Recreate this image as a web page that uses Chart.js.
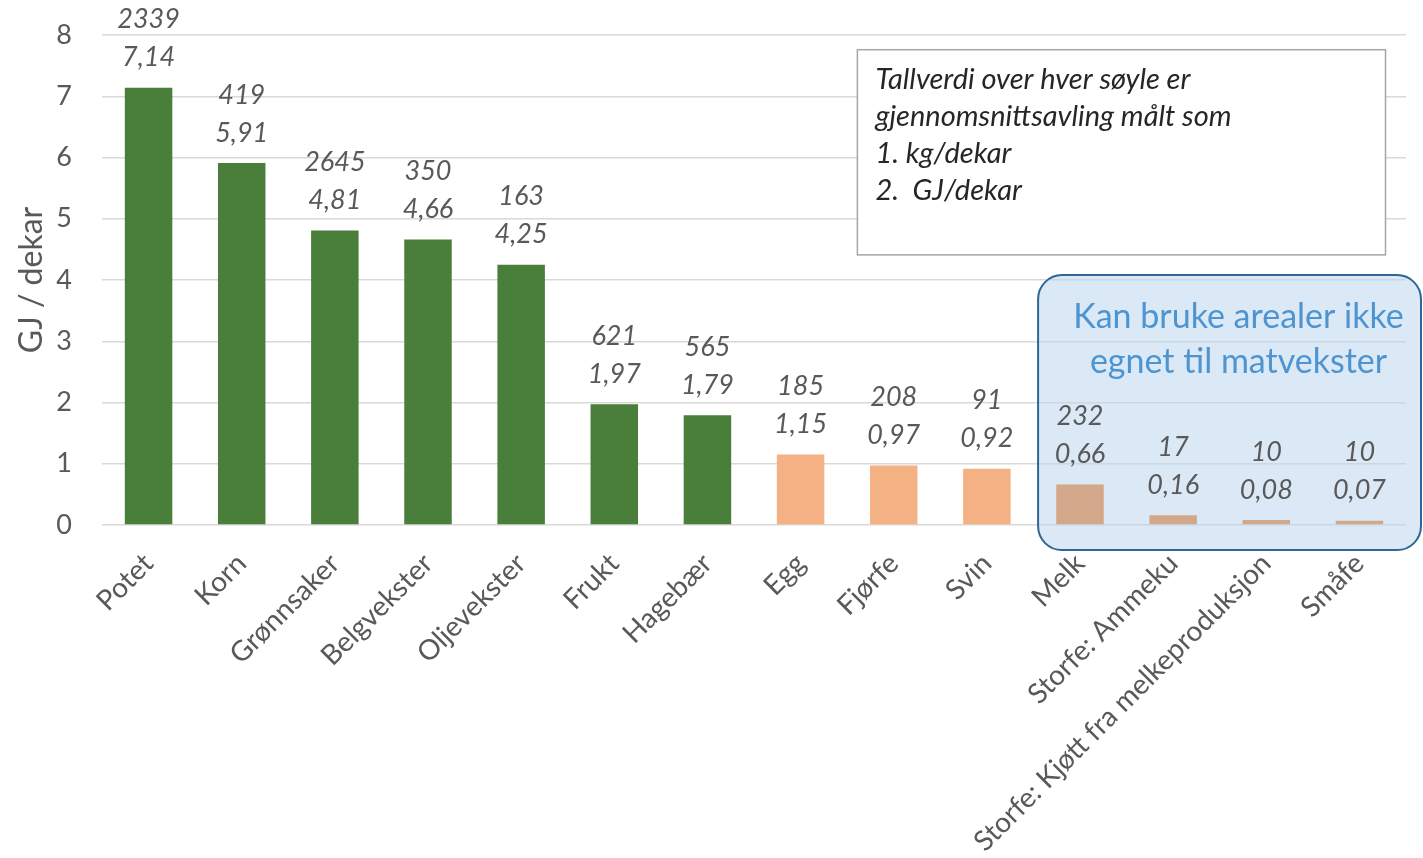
<!DOCTYPE html>
<html>
<head>
<meta charset="utf-8">
<script src="https://cdn.jsdelivr.net/npm/chart.js@4"></script>
<style>
    body { margin: 0; background: #fff; }
    #wrap { width: 1423px; height: 858px; }
</style>
</head>
<body>
<div id="wrap"><canvas id="EnergyYield" width="1423" height="858"></canvas></div>
<script>
// categories and values
const categories = ["Potet", "Korn", "Grønnsaker", "Belgvekster", "Oljevekster", "Frukt", "Hagebær",
    "Egg", "Fjørfe", "Svin", "Melk", "Storfe: Ammeku", "Storfe: Kjøtt fra melkeproduksjon", "Småfe"];
const gjPerDekar = [7.14, 5.91, 4.81, 4.66, 4.25, 1.97, 1.79, 1.15, 0.97, 0.92, 0.66, 0.16, 0.08, 0.07];
const kgPerDekar = [2339, 419, 2645, 350, 163, 621, 565, 185, 208, 91, 232, 17, 10, 10];
const groups = ["plante", "plante", "plante", "plante", "plante", "plante", "plante",
    "dyr", "dyr", "dyr", "grovfor", "grovfor", "grovfor", "grovfor"];
const yTicks = [0, 1, 2, 3, 4, 5, 6, 7, 8];

const noteLines = ["Tallverdi over hver søyle er", "gjennomsnittsavling målt som", "1. kg/dekar", "2.  GJ/dekar"];
const boxLines = ["Kan bruke arealer ikke", "egnet til matvekster"];

const groupColor = { plante: "#4a7e3b", dyr: "#f4b183", grovfor: "#d3a88a" };
const grey = "#595959";

// blue rounded box behind the grass-based bars
const overlayBox = {
    id: "overlayBox",
    beforeDatasetsDraw(chart) {
        const { ctx, scales: { x, y } } = chart;
        const step = x.getPixelForValue(1) - x.getPixelForValue(0);
        const left = x.getPixelForValue(10) - 0.45 * step;
        const right = chart.width - 2;
        const top = y.getPixelForValue(4.08);
        const bottom = y.getPixelForValue(-0.41);
        ctx.save();
        ctx.beginPath();
        ctx.roundRect(left, top, right - left, bottom - top, 24);
        ctx.fillStyle = "rgba(189, 215, 238, 0.55)";
        ctx.fill();
        ctx.lineWidth = 2;
        ctx.strokeStyle = "#2f6696";
        ctx.stroke();
        ctx.fillStyle = "#4d94d0";
        ctx.font = "34px Lato";
        ctx.textAlign = "center";
        ctx.textBaseline = "middle";
        const cx = (left + right) / 2 + 9;
        ctx.fillText(boxLines[0], cx, top + 42);
        ctx.fillText(boxLines[1], cx, top + 87);
        ctx.restore();
    }
};

// note box top right
const noteBox = {
    id: "noteBox",
    beforeDatasetsDraw(chart) {
        const { ctx, scales: { x, y } } = chart;
        const left = x.getPixelForValue(7.61);
        const right = x.getPixelForValue(13.28);
        const top = y.getPixelForValue(7.76);
        const bottom = y.getPixelForValue(4.41);
        ctx.save();
        ctx.fillStyle = "#fff";
        ctx.fillRect(left, top, right - left, bottom - top);
        ctx.lineWidth = 1.5;
        ctx.strokeStyle = "#a6a6a6";
        ctx.strokeRect(left, top, right - left, bottom - top);
        ctx.fillStyle = "#262626";
        ctx.font = "italic 29px Lato";
        ctx.textBaseline = "middle";
        noteLines.forEach((t, i) => ctx.fillText(t, left + 18, top + 30 + i * 37));
        ctx.restore();
    }
};

// two-line value labels above each bar
const valueLabels = {
    id: "valueLabels",
    afterDatasetsDraw(chart) {
        const { ctx } = chart;
        const bars = chart.getDatasetMeta(0).data;
        ctx.save();
        ctx.fillStyle = grey;
        ctx.font = "italic 27px Lato";
        ctx.textAlign = "center";
        ctx.textBaseline = "middle";
        bars.forEach((bar, i) => {
            ctx.fillText(gjPerDekar[i].toFixed(2).replace(".", ","), bar.x, bar.y - 30);
            ctx.fillText(String(kgPerDekar[i]), bar.x, bar.y - 68);
        });
        ctx.restore();
    }
};

new Chart(document.querySelector("#EnergyYield"), {
    type: "bar",
    data: {
        labels: categories,
        datasets: [{
            data: gjPerDekar,
            backgroundColor: groups.map(g => groupColor[g]),
            categoryPercentage: 1,
            barPercentage: 0.51
        }]
    },
    options: {
        responsive: false,
        animation: false,
        layout: { padding: { left: 0, right: 17, top: 35, bottom: 0 } },
        plugins: {
            legend: { display: false },
            tooltip: { enabled: false }
        },
        scales: {
            x: {
                grid: { display: false },
                border: { display: false },
                afterFit: axis => { axis.height = 333; },
                ticks: {
                    autoSkip: false,
                    maxRotation: 45,
                    minRotation: 45,
                    padding: 14,
                    color: grey,
                    font: { family: "Lato", size: 28 }
                }
            },
            y: {
                min: 0,
                max: 8,
                afterBuildTicks: axis => { axis.ticks = yTicks.map(v => ({ value: v })); },
                afterFit: axis => {
                    axis.width = 102;
                    axis.paddingTop = 0;
                    axis.paddingBottom = 0;
                },
                grid: { color: "#d9d9d9", lineWidth: 1.5, drawTicks: false },
                border: { display: false },
                ticks: {
                    padding: 30,
                    color: grey,
                    font: { family: "Lato", size: 27 }
                },
                title: {
                    display: true,
                    text: "GJ / dekar",
                    color: grey,
                    padding: { top: 12, bottom: 4 },
                    font: { family: "Lato", size: 32 }
                }
            }
        }
    },
    plugins: [overlayBox, noteBox, valueLabels]
});
</script>
</body>
</html>
